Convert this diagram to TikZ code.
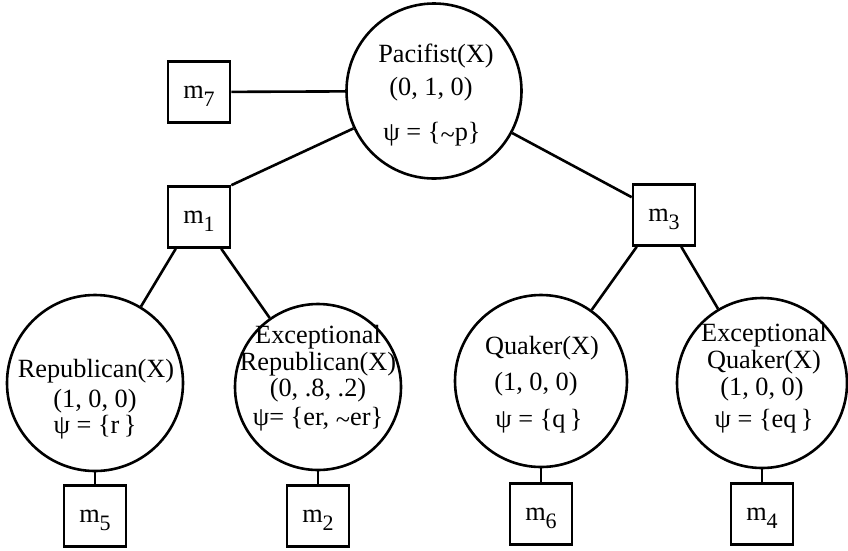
\documentclass[tikz,border=0pt]{standalone}
\usepackage{fontspec}
\setmainfont{Liberation Serif}
\usetikzlibrary{calc}
\newcommand\msub[2]{#1\raisebox{-8pt}{\fontsize{22}{22}\selectfont #2}}
\newcommand\tld{\raisebox{-0.25ex}{\textasciitilde}}
\begin{document}
\begin{tikzpicture}[x=1pt,y=-1pt,line width=2.6pt,
  circ/.style={draw,circle,inner sep=0pt},
  mbox/.style={draw,rectangle,minimum width=62pt,minimum height=61pt,inner sep=0pt,
    text height=12pt,text depth=0pt,font=\fontsize{26.3}{30}\selectfont},
  txt/.style={anchor=base,inner sep=0pt,font=\fontsize{26.3}{30}\selectfont}]
\useasboundingbox (0,0) rectangle (848,550);
% circles
\node[circ,minimum size=175pt] (P) at (434,91) {};
\node[circ,minimum size=176pt] (R) at (95,383) {};
\node[circ,minimum size=166pt] (ER) at (318,387) {};
\node[circ,minimum size=172pt] (Q) at (541,381) {};
\node[circ,minimum size=170pt] (EQ) at (762,383) {};
% boxes
\node[mbox] (m7) at (199,92) {\msub{m}{7}};
\node[mbox] (m1) at (199,217) {\msub{m}{1}};
\node[mbox] (m3) at (664,215) {\msub{m}{3}};
\node[mbox] (m5) at (95,516) {\msub{m}{5}};
\node[mbox] (m2) at (318,516) {\msub{m}{2}};
\node[mbox] (m6) at (541,514) {\msub{m}{6}};
\node[mbox] (m4) at (762,514) {\msub{m}{4}};
% connectors
\draw (m7) -- (P);
\draw (P) -- (m1.north east);
\draw (P) -- ($(m3.north west)+(0,14)$);
\draw ($(m1.south west)+(9,0)$) -- (R);
\draw ($(m1.south east)+(-10,0)$) -- (ER);
\draw ($(m3.south west)+(5,0)$) -- (Q);
\draw ($(m3.south east)+(-15,0)$) -- (EQ);
\draw (R) -- (m5);
\draw (ER) -- (m2);
\draw (Q) -- (m6);
\draw (EQ) -- (m4);
% texts
\node[txt] (P1) at (436,62) {Pacifist(X)};
\node[txt] (P2) at (431,95) {(0, 1, 0)};
\node[txt] (P3) at (432,140) {ψ = \{\tld p\}};
\node[txt] (R1) at (96,377) {Republican(X)};
\node[txt] (R2) at (95,407) {(1, 0, 0)};
\node[txt] (R3) at (95,433) {ψ = \{r\,\}};
\node[txt] (ER1) at (318,343) {Exceptional};
\node[txt] (ER2) at (318,370) {Republican(X)};
\node[txt] (ER3) at (318,396) {(0, .8, .2)};
\node[txt] (ER4) at (318,425) {ψ= \{er, \tld er\}};
\node[txt] (Q1) at (542,354) {Quaker(X)};
\node[txt] (Q2) at (536,390) {(1, 0, 0)};
\node[txt] (Q3) at (539,427) {ψ = \{q\,\}};
\node[txt] (EQ1) at (764,341) {Exceptional};
\node[txt] (EQ2) at (764,368) {Quaker(X)};
\node[txt] (EQ3) at (762,395) {(1, 0, 0)};
\node[txt] (EQ4) at (764,427) {ψ = \{eq\,\}};
\end{tikzpicture}
\end{document}
